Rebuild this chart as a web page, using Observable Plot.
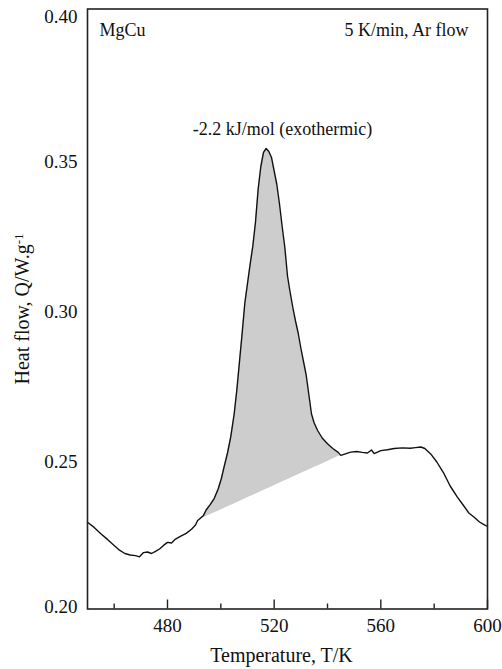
<!DOCTYPE html>
<html><head><meta charset="utf-8">
<script src="https://cdn.jsdelivr.net/npm/d3@7"></script>
<script src="https://cdn.jsdelivr.net/npm/@observablehq/plot@0.6"></script>
<style>body{margin:0;background:#fff}</style>
</head><body><div id="chart"></div>
<script>
const temperature = [450,452.5,455,457.5,460,462,464,466,468,469.5,471,472.5,474,475.5,477,478.5,480,481.5,483,485,487,489,490.5,491.3,492,493.5,494.5,496,497.5,499,500.2,501.2,502.5,503.7,505,506,507,508,509,510,511,512,513,514,515,516,517,518,519,520,521,522,523,524,525,526,527,528,529,530,531,532,533,534,535,536.3,538,540,542,544,545,547,548.7,551,553,555,556.5,557.5,560,562.5,565,568,571,573,575,576.5,578.7,581,583.7,586,588.7,591,593,595,597,598.5,600];
const heatFlow = [0.2289,0.2272,0.2251,0.2232,0.2212,0.2196,0.2185,0.2180,0.2178,0.2174,0.2188,0.2190,0.2185,0.2192,0.2200,0.2212,0.2222,0.2220,0.2233,0.2243,0.2252,0.2266,0.2280,0.2295,0.2300,0.2312,0.2330,0.2348,0.2368,0.2400,0.2435,0.2473,0.2520,0.2573,0.2650,0.2730,0.2825,0.2920,0.3020,0.3085,0.3150,0.3210,0.3290,0.3400,0.3475,0.3522,0.3535,0.3525,0.3505,0.3460,0.3415,0.3350,0.3275,0.3205,0.3110,0.3055,0.3005,0.2960,0.2920,0.2870,0.2825,0.2780,0.2715,0.2650,0.2620,0.2595,0.2570,0.2551,0.2535,0.2522,0.2512,0.2518,0.2523,0.2525,0.2522,0.2520,0.2530,0.2518,0.2528,0.2531,0.2535,0.2537,0.2536,0.2538,0.2540,0.2535,0.2517,0.2490,0.2451,0.2410,0.2373,0.2345,0.2320,0.2306,0.2290,0.2282,0.2275];
const baselineT = [491.3, 545];
const baselineQ = [0.2295, 0.2512];
const majorTicks = [480, 520, 560, 600];
const minorTicks = [460, 500, 540, 580];
const yTicks = [0.20, 0.25, 0.30, 0.35, 0.40];
const sampleLabel = "MgCu";
const rateLabel = "5 K/min, Ar flow";
const enthalpyLabel = "-2.2 kJ/mol (exothermic)";
const xTitle = "Temperature, T/K";
const yTitle = "Heat flow, Q/W.g-1";

const W = 502, H = 669, mL = 87, mR = 15, mT = 8.5, mB = 60.5;
const plotH = H - mT - mB;

const data = temperature.map((t, i) => ({t, q: heatFlow[i]}));
const shaded = data
  .filter(d => d.t >= baselineT[0] && d.t <= baselineT[1])
  .map(d => ({t: d.t, q: d.q,
    base: baselineQ[0] + (d.t - baselineT[0]) / (baselineT[1] - baselineT[0]) * (baselineQ[1] - baselineQ[0])}));

const yFmt = d => d.toFixed(2);

const chart = Plot.plot({
  width: W, height: H,
  marginLeft: mL, marginRight: mR, marginTop: mT, marginBottom: mB,
  x: {domain: [450, 600]},
  y: {domain: [0.2, 0.4]},
  style: {fontFamily: "Liberation Serif", fontSize: "19px", color: "#111", background: "#fff"},
  marks: [
    Plot.areaY(shaded, {x: "t", y1: "base", y2: "q", fill: "#cdcdcd"}),
    Plot.line(data, {x: "t", y: "q", stroke: "#111", strokeWidth: 1.4}),
    Plot.tickX(majorTicks, {x: d => d, insetTop: plotH - 9, stroke: "#222", strokeWidth: 1.4}),
    Plot.tickX(minorTicks, {x: d => d, insetTop: plotH - 5, stroke: "#222", strokeWidth: 1.4}),
    Plot.axisX(majorTicks, {tickSize: 0, tickPadding: 9, tickFormat: d => String(d), label: null, fontSize: 19}),
    Plot.axisY(yTicks.slice(0, 1), {tickSize: 0, tickPadding: 10, tickFormat: yFmt, label: null, fontSize: 19, dy: -2}),
    Plot.axisY(yTicks.slice(1, 4), {tickSize: 0, tickPadding: 10, tickFormat: yFmt, label: null, fontSize: 19, dy: 3}),
    Plot.axisY(yTicks.slice(4), {tickSize: 0, tickPadding: 10, tickFormat: yFmt, label: null, fontSize: 19, dy: 8}),
    Plot.frame({stroke: "#222", strokeWidth: 1.6}),
    Plot.text([sampleLabel], {text: d => d, frameAnchor: "top-left", textAnchor: "start", lineAnchor: "middle", dx: 12, dy: 21.5, fontSize: 18}),
    Plot.text([rateLabel], {text: d => d, frameAnchor: "top-right", textAnchor: "end", lineAnchor: "middle", dx: -19, dy: 21.5, fontSize: 18}),
    Plot.text([enthalpyLabel], {text: d => d, frameAnchor: "top-left", textAnchor: "middle", lineAnchor: "middle", dx: 195, dy: 120, fontSize: 18}),
    Plot.text([xTitle], {text: d => d, frameAnchor: "bottom", textAnchor: "middle", lineAnchor: "middle", dx: -6, dy: 46.5, fontSize: 20}),
    Plot.text([yTitle], {text: d => d, frameAnchor: "left", textAnchor: "middle", lineAnchor: "middle", dx: -65, rotate: -90, fontSize: 20})
  ]
});
document.getElementById("chart").appendChild(chart);

// render the "-1" of the y title as a superscript
d3.select(chart).selectAll("text").each(function() {
  if (this.textContent === yTitle) {
    const el = d3.select(this);
    el.text(null);
    el.append("tspan").text("Heat flow, Q/W.g");
    el.append("tspan").attr("dy", "-0.45em").attr("font-size", "13px").text("-1");
  }
});
</script>
</body></html>
